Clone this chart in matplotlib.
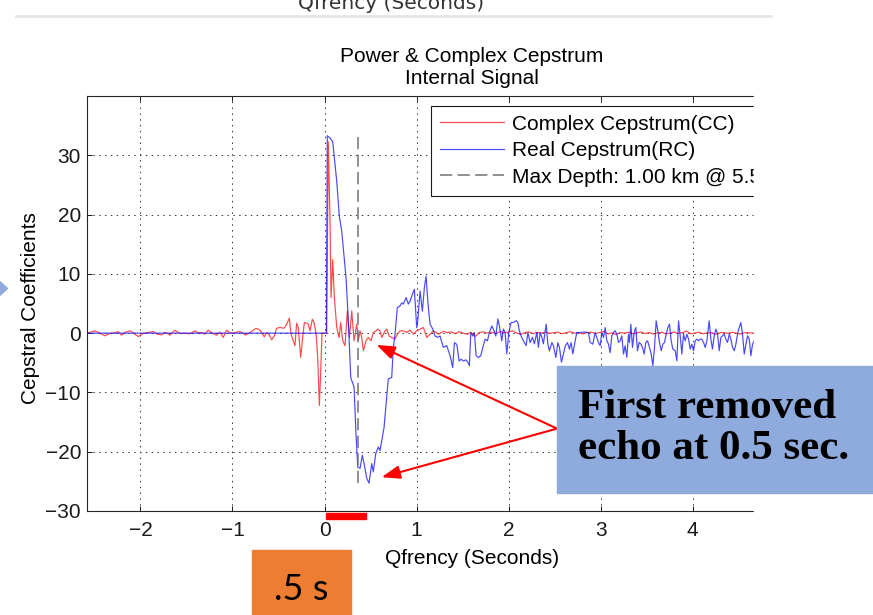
import matplotlib
matplotlib.use("Agg")
import matplotlib.pyplot as plt
from matplotlib.patches import Rectangle, Polygon
from matplotlib.lines import Line2D

plt.rcParams['font.family'] = ['Liberation Sans', 'DejaVu Sans']

# complex cepstrum (CC), quefrency in seconds
cc_q = [-2.577, -2.495, -2.44, -2.386, -2.332, -2.277, -2.241, -2.205, -2.161, -2.114,
        -2.07, -2.023, -1.969, -1.915, -1.86, -1.817, -1.77, -1.726, -1.679, -1.625,
        -1.571, -1.516, -1.462, -1.408, -1.372, -1.335, -1.299, -1.263, -1.22, -1.172,
        -1.136, -1.1, -1.064, -1.027, -0.991, -0.955, -0.918, -0.882, -0.857, -0.828,
        -0.781, -0.745, -0.701, -0.654, -0.629, -0.6, -0.574, -0.545, -0.52, -0.484,
        -0.44, -0.411, -0.382, -0.364, -0.339, -0.321, -0.303, -0.285, -0.259, -0.237,
        -0.219, -0.194, -0.176, -0.158, -0.132, -0.114, -0.092, -0.074, -0.056, -0.041,
        -0.027, 0.024, 0.041, 0.06, 0.071, 0.089, 0.107, 0.133, 0.158, 0.176,
        0.198, 0.223, 0.248, 0.27, 0.296, 0.321, 0.35, 0.367, 0.386, 0.404,
        0.422, 0.451, 0.476, 0.505, 0.53, 0.56, 0.578, 0.603, 0.622, 0.658,
        0.676, 0.701, 0.73, 0.766, 0.791, 0.821, 0.857, 0.893, 0.929, 0.966,
        1.002, 1.038, 1.074, 1.111, 1.147, 1.183, 1.24, 1.29, 1.33, 1.38,
        1.42, 1.46, 1.5, 1.55, 1.59, 1.64, 1.68, 1.73, 1.77, 1.82,
        1.86, 1.91, 1.95, 2.0, 2.04, 2.09, 2.13, 2.18, 2.22, 2.27,
        2.31, 2.36, 2.4, 2.45, 2.49, 2.54, 2.58, 2.63, 2.67, 2.72,
        2.76, 2.81, 2.85, 2.9, 2.94, 2.99, 3.03, 3.08, 3.12, 3.17,
        3.21, 3.26, 3.3, 3.35, 3.39, 3.44, 3.48, 3.53, 3.57, 3.62,
        3.66, 3.71, 3.75, 3.8, 3.84, 3.89, 3.93, 3.98, 4.02, 4.07,
        4.11, 4.16, 4.2, 4.25, 4.29, 4.34, 4.38, 4.43, 4.47, 4.52,
        4.56, 4.61, 4.67]
cc_val = [0, 0.39, 0, -0.45, -0.06, 0.05, 0.27, -0.34, 0.16, 0.39,
          -0.06, -0.57, -0.06, 0.1, 0.27, -0.17, -0.29, 0.16, -0.34, 0.5,
          -0.06, 0, -0.12, 0.39, 0.05, 0.1, -0.17, 0.5, 0, -0.34,
          0.16, -0.73, 0.5, 0.05, 0, 0.16, 0.27, -0.06, -0.34, -0.06,
          0.39, 0.83, 0.5, -0.62, 0.1, -0.29, -1.13, -0.45, 0.83, 0.95,
          0.83, 1.51, 2.52, -0.17, -1.29, -2.13, 1.68, 0.95, -4.1, -0.73,
          1.79, 1.68, 1.51, 0.39, 2.35, 1.79, 0, -4.1, -12.2, -6.3,
          0, 0, 32.3, 18.9, 6.0, 12.4, 6.0, 0.95, -0.73, 1.79,
          -1.29, -2.13, 3.75, -0.73, 3.75, -1.29, 1.51, -1.29, 0.39, -0.73,
          -2.97, -1.29, -0.73, -1.29, 0.11, 0.39, 0.67, 0.39, -0.73, 0.39,
          0.67, -0.45, -0.73, -1.0, -0.17, 0.39, 0.39, 0.11, 0.5, -0.17,
          0.39, 0.67, 0.95, -0.73, -0.17, 0.39, -0.17, 0.3, 0.1, 0.2,
          -0.1, 0.25, 0.05, -0.2, 0.15, -0.55, 0.1, 0.2, 0.0, 0.15,
          -0.1, 0.3, 0.05, 0.2, 0.4, 0.0, -0.2, 0.1, 0.2, -0.1,
          0.15, 0.0, 0.2, -0.05, 0.1, 0.15, -0.1, 0.1, 0.25, 0.0,
          0.1, -0.15, 0.1, 0.15, -0.05, 0.1, 0.3, -0.1, 0.05, -0.25,
          0.1, 0.0, 0.15, -0.1, 0.05, 0.2, -0.05, 0.1, -0.15, 0.05,
          0.15, -0.1, 0.0, 0.2, -0.05, 0.1, 0.35, -0.1, 0.0, 0.15,
          -0.1, 0.05, 0.1, -0.2, 0.05, 0.1, -0.05, 0.15, 0.0, -0.15,
          0.1, 0.05, 0.0]

# real cepstrum (RC)
rc_q = [-2.577, 0.02, 0.03, 0.06, 0.089, 0.133, 0.161, 0.187, 0.204, 0.234,
        0.259, 0.285, 0.321, 0.342, 0.361, 0.386, 0.411, 0.433, 0.459, 0.484,
        0.513, 0.53, 0.557, 0.585, 0.603, 0.622, 0.647, 0.676, 0.693, 0.73,
        0.748, 0.766, 0.791, 0.821, 0.839, 0.857, 0.886, 0.911, 0.929, 0.954,
        0.976, 1.002, 1.013, 1.038, 1.063, 1.085, 1.103, 1.128, 1.147, 1.176,
        1.201, 1.23, 1.255, 1.291, 1.328, 1.364, 1.393, 1.411, 1.437, 1.462,
        1.484, 1.509, 1.535, 1.557, 1.574, 1.589, 1.611, 1.628, 1.647, 1.672,
        1.698, 1.72, 1.745, 1.77, 1.791, 1.817, 1.842, 1.861, 1.883, 1.9,
        1.926, 1.943, 1.962, 1.98, 2.002, 2.027, 2.052, 2.082, 2.1, 2.117,
        2.136, 2.161, 2.19, 2.21, 2.234, 2.259, 2.28, 2.307, 2.324, 2.342,
        2.361, 2.378, 2.408, 2.426, 2.443, 2.47, 2.487, 2.513, 2.535, 2.552,
        2.574, 2.596, 2.617, 2.639, 2.661, 2.679, 2.698, 2.723, 2.741, 2.777,
        2.821, 2.867, 2.886, 2.915, 2.94, 2.958, 2.976, 2.995, 3.013, 3.031,
        3.049, 3.067, 3.085, 3.103, 3.121, 3.14, 3.158, 3.176, 3.194, 3.212,
        3.23, 3.248, 3.266, 3.284, 3.303, 3.313, 3.328, 3.346, 3.364, 3.382,
        3.4, 3.418, 3.437, 3.455, 3.473, 3.491, 3.509, 3.531, 3.549, 3.567,
        3.585, 3.603, 3.621, 3.639, 3.658, 3.676, 3.694, 3.712, 3.73, 3.748,
        3.766, 3.784, 3.81, 3.828, 3.846, 3.864, 3.882, 3.9, 3.918, 3.937,
        3.955, 3.973, 3.991, 4.009, 4.027, 4.045, 4.063, 4.082, 4.1, 4.118,
        4.136, 4.154, 4.179, 4.197, 4.215, 4.233, 4.252, 4.27, 4.288, 4.306,
        4.324, 4.342, 4.36, 4.378, 4.397, 4.415, 4.433, 4.451, 4.469, 4.487,
        4.505, 4.523, 4.541, 4.56, 4.578, 4.596, 4.614, 4.632, 4.65, 4.67]
rc_val = [0, 0, 33.3, 32.9, 32.3, 25.6, 19.7, 17.2, 14.4, 9.3,
          2.1, -7.5, -9.1, -17.0, -22.6, -22.8, -20.6, -22.3, -24.5, -25.3,
          -22.0, -23.4, -20.3, -19.2, -19.8, -18.1, -15.9, -10.8, -7.7, -7.5,
          -2.4, -0.2, 4.3, 4.6, 5.1, 4.9, 6.0, 4.9, 5.4, 6.5,
          7.4, 0.9, 2.1, 7.1, 3.7, 7.7, 9.6, 4.3, 1.5, 0.7,
          -0.5, -0.7, -0.5, -2.4, -2.1, -3.8, -5.8, -1.6, -1.9, -4.7,
          -4.4, -4.7, -4.5, -4.9, -5.5, 0.1, -0.5, 0.1, -3.8, -4.1,
          -3.8, -2.4, -1.0, -1.3, 0.1, 1.2, 0.4, -0.5, 2.4, 1.2,
          -1.3, 0.7, 0.1, -3.5, 0.1, 1.8, 1.8, 2.1, 1.8, 0.4,
          -0.5, -1.3, -2.1, 0.1, -1.6, -0.7, -1.8, 0.1, -2.4, 0.1,
          -0.7, -1.8, 1.5, -1.8, -3.0, -1.6, -2.1, -4.1, -1.6, -2.4,
          -4.9, -3.5, -2.1, -1.6, -2.7, -1.6, -3.5, -1.3, 0.1, 0.1,
          0.2, 0.1, -1.57, -1.85, 0.11, -0.73, -1.57, -2.13, 0.11, -0.73,
          0.95, -1.29, -1.85, -3.31, -0.45, 0.11, 0.39, -0.17, -1.57, -1.29,
          -0.45, -3.53, -2.13, -4.09, -0.17, -1.57, 1.51, -2.41, 0.11, 0.95,
          -2.97, -1.57, -1.85, -2.41, -3.53, -1.57, -1.29, -2.41, -3.53, -5.5,
          -2.41, 2.07, 0.39, -1.57, -2.97, -1.85, -1.57, -0.17, 0.95, 1.51,
          -1.29, -2.69, -2.97, -4.66, 2.07, -0.45, -3.53, -0.17, -1.29, -0.17,
          -1.01, -2.69, -1.85, -2.97, -1.29, -1.01, -1.29, -1.01, -1.01, -1.57,
          -2.41, -1.29, 2.07, -1.01, -2.69, -0.45, 0.67, -0.17, -2.97, -0.73,
          -0.45, -0.17, -1.01, -1.57, -0.17, -1.01, -2.41, -2.97, -1.85, -0.17,
          0.95, 1.79, -0.17, -3.53, -1.85, -0.45, -1.01, -3.81, -1.85, -1.2]

depth_q = 0.367          # quefrency of the max-depth marker
echo_q = [0.565, 0.621]  # points the callout arrows aim at
echo_val = [-1.97, -24.3]
x_ticks = [-2, -1, 0, 1, 2, 3, 4]
y_ticks = [-30, -20, -10, 0, 10, 20, 30]

W, H = 873, 615
fig = plt.figure(figsize=(W / 100, H / 100), dpi=100)
ax = fig.add_axes([87.3 / W, 104 / H, 768.7 / W, 415 / H])

ax.plot(cc_q, cc_val, color=(1, 0.1, 0.1), lw=0.85, alpha=0.8, label='Complex Cepstrum(CC)')
ax.plot(rc_q, rc_val, color=(0.1, 0.1, 1), lw=0.85, alpha=0.8, label='Real Cepstrum(RC)')
ax.plot([depth_q, depth_q], [min(rc_val), max(rc_val)], color='0.45', lw=1.1,
        linestyle=(0, (8, 3.5)), label='Max Depth: 1.00 km @ 5.50 s')

ax.set_xlim(-2.577, 5.774)
ax.set_ylim(-30, 40)
ax.set_xticks(x_ticks)
ax.set_yticks(y_ticks)
ax.grid(True, color='0.2', lw=0.7, linestyle=(0, (1.5, 4.5)))
ax.tick_params(direction='in', length=3.6, width=0.7, top=True, right=True,
               labelsize=15, colors='0.1')
ax.tick_params(axis='x', pad=7.5)
ax.tick_params(axis='y', pad=4.5)
for s in ax.spines.values():
    s.set_linewidth(0.8)
    s.set_color('0.15')

ax.set_title('Power & Complex Cepstrum\nInternal Signal', fontsize=15, linespacing=1.15, pad=9)
ax.set_xlabel('Qfrency (Seconds)', fontsize=15, labelpad=6)
ax.set_ylabel('Cepstral Coefficients', fontsize=15)
ax.yaxis.set_label_coords(-0.061, 0.49)

leg = ax.legend(loc='upper left', bbox_to_anchor=((431 - 87.3) / 768.7, 1 - 10 / 415),
                borderaxespad=0, fancybox=False, edgecolor='0.1', framealpha=1,
                fontsize=15, handlelength=3.1, handletextpad=0.35,
                labelspacing=0.36, borderpad=0.42)
leg.get_frame().set_linewidth(0.8)

# red callout arrows from the text box to the echo
for q, v in zip(echo_q, echo_val):
    ax.annotate('', xy=(q, v), xytext=(2.526, -16.1), annotation_clip=False,
                arrowprops=dict(arrowstyle='-|>,head_length=1.1,head_width=0.4',
                                color='red', lw=1.5, shrinkA=0, shrinkB=0))

# red marker under the axis for the first 0.5 s
ax.add_patch(Rectangle((0.013, -31.43), 0.44, 1.01, color='red', clip_on=False, zorder=5))

# page is cut on the right
fig.add_artist(Rectangle((754 / W, 0), 1 - 754 / W, 1, transform=fig.transFigure,
                         color='white', zorder=5))
fig.add_artist(Line2D([16 / W, 771 / W], [1 - 16 / H, 1 - 16 / H], transform=fig.transFigure,
                      color='#e6e6e6', lw=2, zorder=6))
fig.text(391 / W, 1 - 9 / H, 'Qfrency (Seconds)', ha='center', va='baseline',
         family='DejaVu Sans', fontsize=14.5, color='#333333')

fig.add_artist(Polygon([[0, 1 - 281.7 / H], [7.5 / W, 1 - 288.5 / H], [0, 1 - 295.3 / H]],
                       closed=True, transform=fig.transFigure, color='#8FAADC', zorder=6))

fig.add_artist(Rectangle((557.3 / W, 1 - 492.7 / H), 1 - 557.3 / W, 127 / H,
                         transform=fig.transFigure, color='#8FAADC', zorder=7))
fig.text(577.7 / W, 1 - 428.5 / H, 'First removed\necho at 0.5 sec.', ha='left', va='center',
         family='Liberation Serif', weight='bold', fontsize=31, linespacing=1.1, zorder=8)

fig.add_artist(Rectangle((252 / W, 0), 99 / W, 65 / H, transform=fig.transFigure,
                         color='#ED7D31', zorder=7))
fig.text(301 / W, 1 - 589 / H, '.5 s', ha='center', va='center', family='Lato',
         fontsize=26, zorder=8)

fig.savefig('out.png', dpi=100)
